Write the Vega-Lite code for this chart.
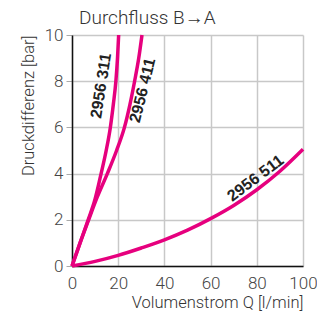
{
  "$schema": "https://vega.github.io/schema/vega-lite/v6.json",
  "width": 231,
  "height": 231,
  "autosize": "none",
  "padding": {"left": 72, "top": 35, "right": 14, "bottom": 48},
  "background": "white",
  "title": {
    "text": "Durchfluss B→A",
    "anchor": "start",
    "frame": "group",
    "dx": 7,
    "offset": -2,
    "font": "Roboto",
    "fontSize": 19,
    "fontWeight": 300,
    "color": "#333333"
  },
  "datasets": {
    "curves": [
      {"series": "2956 311", "Q": 0, "dp": 0},
      {"series": "2956 311", "Q": 3.5, "dp": 1},
      {"series": "2956 311", "Q": 7, "dp": 2},
      {"series": "2956 311", "Q": 10, "dp": 2.9},
      {"series": "2956 311", "Q": 12.6, "dp": 4},
      {"series": "2956 311", "Q": 14.8, "dp": 5},
      {"series": "2956 311", "Q": 16.6, "dp": 6},
      {"series": "2956 311", "Q": 17.9, "dp": 7},
      {"series": "2956 311", "Q": 19, "dp": 8},
      {"series": "2956 311", "Q": 19.7, "dp": 9},
      {"series": "2956 311", "Q": 20.2, "dp": 10},
      {"series": "2956 411", "Q": 0, "dp": 0},
      {"series": "2956 411", "Q": 3.5, "dp": 1},
      {"series": "2956 411", "Q": 7.2, "dp": 2},
      {"series": "2956 411", "Q": 11, "dp": 3},
      {"series": "2956 411", "Q": 15.3, "dp": 4},
      {"series": "2956 411", "Q": 19.3, "dp": 5},
      {"series": "2956 411", "Q": 22.7, "dp": 6},
      {"series": "2956 411", "Q": 25.1, "dp": 7},
      {"series": "2956 411", "Q": 27.1, "dp": 8},
      {"series": "2956 411", "Q": 28.9, "dp": 9},
      {"series": "2956 411", "Q": 30.3, "dp": 10},
      {"series": "2956 511", "Q": 0, "dp": 0},
      {"series": "2956 511", "Q": 10, "dp": 0.2},
      {"series": "2956 511", "Q": 20, "dp": 0.46},
      {"series": "2956 511", "Q": 30, "dp": 0.78},
      {"series": "2956 511", "Q": 40, "dp": 1.13},
      {"series": "2956 511", "Q": 50, "dp": 1.55},
      {"series": "2956 511", "Q": 60, "dp": 2.05},
      {"series": "2956 511", "Q": 70, "dp": 2.62},
      {"series": "2956 511", "Q": 80, "dp": 3.3},
      {"series": "2956 511", "Q": 90, "dp": 4.1},
      {"series": "2956 511", "Q": 100, "dp": 5.05}
    ],
    "labels": [
      {"label": "2956 311", "Q": 12.6, "dp": 7.8, "angle": -81},
      {"label": "2956 411", "Q": 30.6, "dp": 7.6, "angle": -76},
      {"label": "2956 511", "Q": 79.5, "dp": 3.8, "angle": -37}
    ]
  },
  "layer": [
    {
      "data": {"name": "curves"},
      "mark": {"type": "line", "color": "#e6007e", "strokeWidth": 3.5, "interpolate": "monotone"},
      "encoding": {
        "x": {
          "field": "Q", "type": "quantitative",
          "scale": {"domain": [0, 100], "nice": false},
          "axis": {
            "title": "Volumenstrom Q [l/min]",
            "values": [0, 20, 40, 60, 80, 100],
            "titleAnchor": "end",
            "titlePadding": 3,
            "tickSize": 6,
            "tickOpacity": 0,
            "labelPadding": 3,
            "labelFlush": false
          }
        },
        "y": {
          "field": "dp", "type": "quantitative",
          "scale": {"domain": [0, 10], "nice": false},
          "axis": {
            "title": "Druckdifferenz [bar]",
            "values": [0, 2, 4, 6, 8, 10],
            "titleAnchor": "end",
            "titlePadding": 8,
            "tickSize": 6,
            "labelPadding": 3,
            "labelFlush": false
          }
        },
        "detail": {"field": "series"}
      }
    },
    {
      "data": {"name": "labels"},
      "mark": {"type": "text", "font": "Liberation Sans", "fontSize": 16, "fontWeight": "bold", "color": "#222222", "align": "center", "baseline": "middle"},
      "encoding": {
        "x": {"field": "Q", "type": "quantitative"},
        "y": {"field": "dp", "type": "quantitative"},
        "text": {"field": "label"},
        "angle": {"field": "angle", "type": "quantitative", "scale": null}
      }
    }
  ],
  "config": {
    "view": {"stroke": null},
    "axis": {
      "grid": true,
      "gridColor": "#c8c8c8",
      "gridWidth": 1.5,
      "domainColor": "#111111",
      "domainWidth": 1.5,
      "tickColor": "#aaaaaa",
      "tickWidth": 1,
      "labelFont": "Roboto",
      "labelFontWeight": 300,
      "labelFontSize": 17,
      "labelColor": "#444444",
      "titleFont": "Roboto",
      "titleFontSize": 16.5,
      "titleFontWeight": 300,
      "titleColor": "#333333"
    }
  }
}
